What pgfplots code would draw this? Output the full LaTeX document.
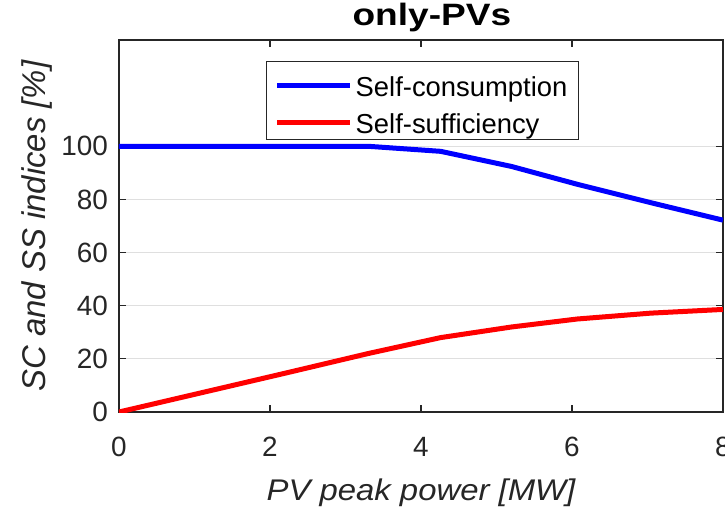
\documentclass[border=0pt]{standalone}
\usepackage{pgfplots}
\pgfplotsset{compat=1.18}
\usepackage{fontspec}
\setmainfont{Liberation Sans}
\newfontfamily\widefont{Liberation Sans}[FakeStretch=1.1]
\newfontfamily\titlefont{Liberation Sans Bold}[FakeStretch=1.2]
\definecolor{axgray}{RGB}{38,38,38}
\definecolor{gridgray}{RGB}{223,223,223}
\begin{document}
\begin{tikzpicture}
\clip (-119bp,-104bp) rectangle (606bp,412bp);
\begin{axis}[
  scale only axis,
  width=604bp, height=372bp,
  xmin=0, xmax=8, ymin=0, ymax=140,
  xtick={0,2,4,6,8},
  ytick={0,20,40,60,80,100},
  axis line style={axgray, line width=1.2bp},
  every tick/.style={axgray, line width=1.2bp},
  major tick length=7bp,
  tick align=inside,
  ymajorgrids,
  major grid style={gridgray, line width=1bp},
  /pgf/number format/assume math mode=true,
  ticklabel style={font=\fontsize{28}{30}\selectfont, text=axgray},
  yticklabel style={inner sep=0pt, xshift=-11bp},
  xticklabel style={inner sep=0pt, yshift=-25bp},
  xlabel={\widefont\itshape PV peak power [MW]},
  ylabel={\itshape SC and SS indices [\%]},
  label style={text=axgray},
  xlabel style={font=\fontsize{30}{32}\selectfont, at={(axis description cs:0.5,0)}, anchor=base, yshift=-88bp},
  ylabel style={font=\fontsize{33}{35}\selectfont, at={(axis description cs:-0.1225,0.5)}, anchor=base},
  title={\titlefont only-PVs},
  title style={font=\fontsize{31}{33}\selectfont, inner sep=0pt, at={(axis description cs:0.518,1)}, anchor=base, yshift=9bp},
  legend style={at={(axis cs:1.95,132)}, anchor=north west, draw=axgray, line width=0.9bp,
    font=\fontsize{27.5}{30}\selectfont, inner xsep=8bp, inner ysep=2bp,
    nodes={text height=25.5bp, text depth=4.5bp, inner ysep=0bp, inner xsep=3bp},
    /tikz/every even column/.append style={column sep=0bp}},
  legend cell align=left,
  legend image code/.code={\draw[#1, line width=5bp] (0bp,0bp) -- (73bp,0bp); \path (0bp,19.5bp);},
]
\addplot[blue, line width=5bp] coordinates {
  (0,100) (1.1,100) (2.2,100) (3.3,100) (4.26,98.1) (5.2,92.4) (6.07,85.7) (7.04,78.8) (8,72.2)
};
\addlegendentry{Self-consumption}
\addplot[red, line width=5bp] coordinates {
  (0,0) (1.1,7.3) (2.2,14.6) (3.3,22) (4.26,28) (5.2,32) (6.07,35) (7.04,37.2) (8,38.6)
};
\addlegendentry{Self-sufficiency}
\end{axis}
\end{tikzpicture}
\end{document}
